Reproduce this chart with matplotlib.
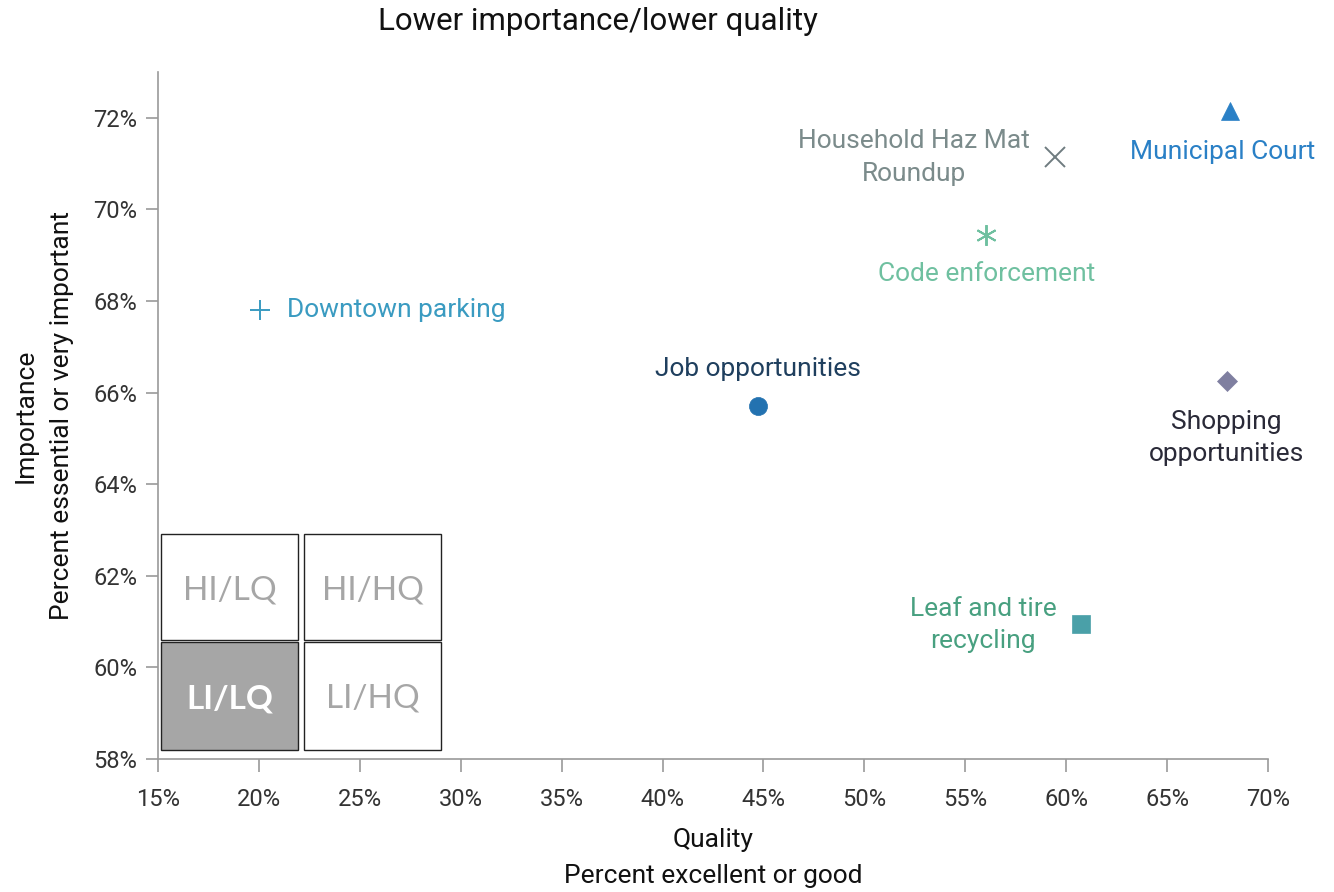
import matplotlib.pyplot as plt
from matplotlib.patches import Rectangle
from matplotlib.ticker import FuncFormatter

plt.rcParams['font.family'] = ['Roboto', 'DejaVu Sans']

# Data
labels = ["Downtown parking", "Job opportunities", "Household Haz Mat\nRoundup",
          "Code enforcement", "Municipal Court", "Shopping\nopportunities",
          "Leaf and tire\nrecycling"]
quality = [20.05, 44.75, 59.45, 56.05, 68.1, 67.95, 60.75]
importance = [67.8, 65.7, 71.15, 69.45, 72.15, 66.25, 60.95]
markers = ['+', 'o', 'x', (6, 2, 0), '^', 'D', 's']
marker_colors = ['#3a9bc1', '#2372b0', '#6f7c80', '#6fc0a0', '#2a80c6', '#7f7fa0', '#4aa0a8']
text_colors = ['#3a9bc1', '#1f3f5e', '#7b8b8b', '#6fc0a0', '#2a80c6', '#2a2a38', '#48a080']
marker_sizes = [14, 13, 15, 15, 13, 10, 13]
# label offsets in pixels (dx, dy) and alignment
offsets = [(27, 0), (0, 37), (-141, -1), (0, -39), (-7, -41), (0, -57), (-98, -1)]
aligns = ['left', 'center', 'center', 'center', 'center', 'center', 'center']

fig = plt.figure(figsize=(13.34, 8.92), dpi=100)
ax = fig.add_axes([0.1184, 0.1491, 0.8321, 0.7702])

for x, y, lab, m, mc, tc, ms, off, ha in zip(quality, importance, labels, markers,
                                              marker_colors, text_colors, marker_sizes,
                                              offsets, aligns):
    ax.plot(x, y, marker=m, color=mc, markersize=ms, linestyle='none',
            markeredgewidth=1.4 if m in ['+', 'x', (6, 2, 0)] else 0.5)
    ax.annotate(lab, (x, y), xytext=off, textcoords='offset pixels',
                ha=ha, va='center', multialignment='center',
                color=tc, fontsize=19, linespacing=1.45)

ax.set_xlim(15, 70)
ax.set_ylim(58, 73)
ax.set_xticks(range(15, 71, 5))
ax.set_yticks(range(58, 73, 2))
ax.xaxis.set_major_formatter(FuncFormatter(lambda v, p: f"{v:.0f}%"))
ax.yaxis.set_major_formatter(FuncFormatter(lambda v, p: f"{v:.0f}%"))
for s in ['top', 'right']:
    ax.spines[s].set_visible(False)
for s in ['left', 'bottom']:
    ax.spines[s].set_color('#9a9a9a')
    ax.spines[s].set_linewidth(1.2)
ax.tick_params(axis='both', colors='#9a9a9a', labelcolor='#333333',
               labelsize=17, length=9, width=1.2, direction='out')
ax.tick_params(axis='x', pad=12)
ax.tick_params(axis='y', pad=6)

ax.set_xlabel("Quality\nPercent excellent or good", fontsize=19,
              linespacing=1.65, labelpad=12, color='#111111')
ax.set_ylabel("Importance\nPercent essential or very important", fontsize=19,
              linespacing=1.65, labelpad=14, color='#111111')

fig.text(598 / 1334, 1 - 22 / 892, "Lower importance/lower quality",
         ha='center', va='center', fontsize=22.5, color='#111111')

# quadrant key
W, H = 1334, 892
boxes = [(161, 534, 298, 640, "HI/LQ", 'white', '#a6a6a6', 'normal'),
         (304, 534, 441, 640, "HI/HQ", 'white', '#a6a6a6', 'normal'),
         (161, 642, 298, 750, "LI/LQ", '#a6a6a6', 'white', 'bold'),
         (304, 642, 441, 750, "LI/HQ", 'white', '#a6a6a6', 'normal')]
for x0, y0, x1, y1, txt, fc, tcol, fw in boxes:
    fig.add_artist(Rectangle((x0 / W, 1 - y1 / H), (x1 - x0) / W, (y1 - y0) / H,
                             transform=fig.transFigure, facecolor=fc,
                             edgecolor='#222222', linewidth=1.0))
    fig.text((x0 + x1) / 2 / W, 1 - (y0 + y1 + 6) / 2 / H, txt, ha='center', va='center',
             fontsize=24, color=tcol, fontweight=fw, family=['Lato', 'DejaVu Sans'])

fig.savefig('out.png', dpi=100)
